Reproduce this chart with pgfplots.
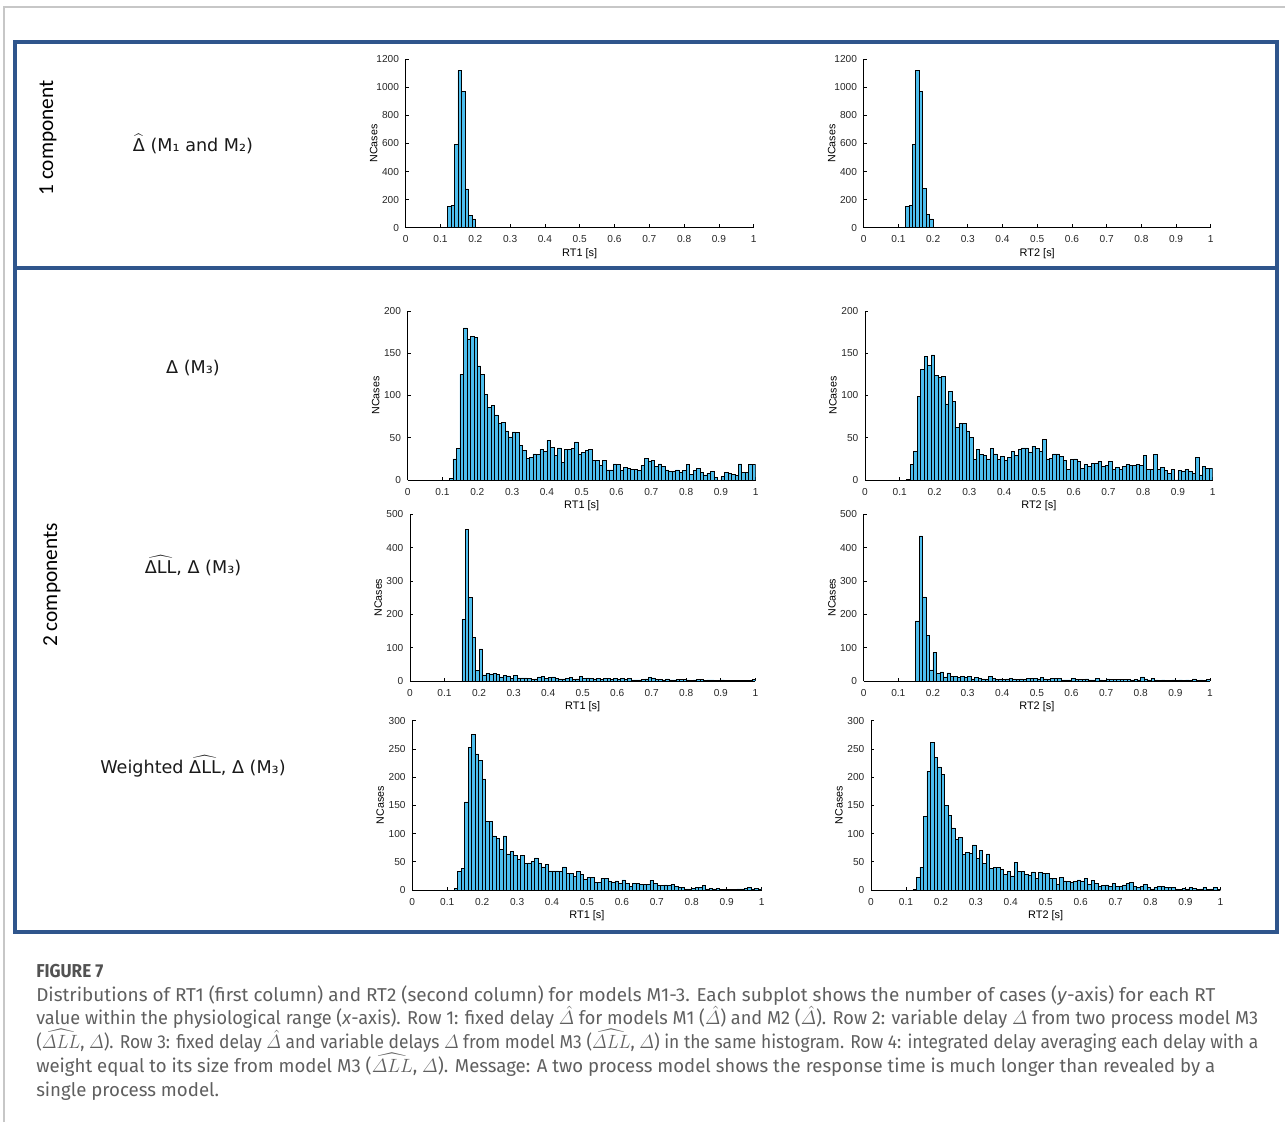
\documentclass[border=0pt]{standalone}
\usepackage{amsmath}
\usepackage{graphicx}
\usepackage{fontspec}
\usepackage{pgfplots}
\pgfplotsset{compat=1.18}
\newfontfamily\arial{Liberation Sans}
\newfontfamily\verd{DejaVu Sans}
\newfontfamily\cali{Carlito}
\newfontfamily\capfont{Fira Sans}
\definecolor{matblue}{RGB}{77,190,238}
\definecolor{boxblue}{RGB}{47,85,140}
\definecolor{capgray}{RGB}{95,95,95}

\pgfplotsset{
  hist/.style={
    scale only axis, anchor=south west,
    xmin=0, xmax=1, ymin=0,
    axis x line*=bottom, axis y line*=left,
    tick align=inside, major tick length=2.5pt,
    xtick={0,0.1,0.2,0.3,0.4,0.5,0.6,0.7,0.8,0.9,1},
    ticklabel style={font=\arial\fontsize{7.6}{9}\selectfont, text=black!85},
    xticklabel style={yshift=-2.5pt},
    yticklabel style={xshift=-1.5pt},
    /pgf/number format/assume math mode=true,
    /pgf/number format/1000 sep={},
    axis line style={line width=0.6pt},
    tick style={line width=0.5pt, black},
    every axis y label/.style={at={(axis description cs:-0.092,0.5)}, rotate=90, anchor=center,
      font=\arial\fontsize{8}{9}\selectfont},
    every axis x label/.style={at={(axis description cs:0.5,0)}, anchor=center, yshift=-19.5pt,
      font=\arial\fontsize{8.2}{9}\selectfont},
    ylabel={NCases},
  },
  bars/.style={ybar interval, fill=matblue, draw=black, line width=0.45pt},
}

\begin{document}
\begin{tikzpicture}[x=0.75pt,y=0.75pt]
\path[use as bounding box] (0,0) rectangle (1285,1122);

% frame and boxes
\draw[black!22, line width=1] (4,0) -- (4,1115) -- (1285,1115);
\draw[boxblue, line width=3] (15,1080) rectangle (1277,190);
\draw[boxblue, line width=3] (15,854) -- (1277,854);

% row labels
\node[rotate=90, font=\cali\fontsize{16}{18}\selectfont] at (48,984) {1 component};
\node[rotate=90, font=\cali\fontsize{16}{18}\selectfont] at (52,537) {2 components};
\begin{scope}[every node/.style={font=\verd\fontsize{13.2}{15}\selectfont, text=black!90}]
\node at (193,978) {$\widehat{\text{Δ}}$ (M₁ and M₂)};
\node at (193,754) {Δ (M₃)};
\node at (193,556) {$\widehat{\text{ΔLL}}$, Δ (M₃)};
\node at (193,356) {Weighted $\widehat{\text{ΔLL}}$, Δ (M₃)};
\end{scope}

% row 1
\begin{axis}[hist, at={({405.7*0.75pt},{894.3*0.75pt})}, width=261pt, height=126.3pt,
  ymax=1200, ytick={0,200,400,600,800,1000,1200}, xlabel={RT1 [s]}]
\addplot[bars] coordinates {(0.12,154)(0.13,161)(0.14,594)(0.15,1119)(0.16,972)(0.17,276)(0.18,90)(0.19,62)(0.20,0)};
\end{axis}
\begin{axis}[hist, at={({863.7*0.75pt},{894.3*0.75pt})}, width=260.3pt, height=126.3pt,
  ymax=1200, ytick={0,200,400,600,800,1000,1200}, xlabel={RT2 [s]}]
\addplot[bars] coordinates {(0.12,152)(0.13,158)(0.14,595)(0.15,1120)(0.16,970)(0.17,278)(0.18,92)(0.19,62)(0.20,0)};
\end{axis}

% row 2
\begin{axis}[hist, at={({407.7*0.75pt},{642*0.75pt})}, width=261pt, height=126.75pt,
  ymax=200, ytick={0,50,100,150,200}, xlabel={RT1 [s]}]
\addplot[bars] coordinates {
(0.12,2)(0.13,25)(0.14,37)(0.15,125)(0.16,180)(0.17,167)(0.18,170)(0.19,169)
(0.20,135)(0.21,125)(0.22,101)(0.23,86)(0.24,88)(0.25,77)(0.26,67)(0.27,68)(0.28,58)(0.29,51)
(0.30,57)(0.31,56)(0.32,41)(0.33,35)(0.34,26)(0.35,27)(0.36,31)(0.37,30)(0.38,36)(0.39,34)
(0.40,47)(0.41,39)(0.42,29)(0.43,38)(0.44,21)(0.45,36)(0.46,36)(0.47,37)(0.48,45)(0.49,30)
(0.50,33)(0.51,35)(0.52,36)(0.53,23)(0.54,23)(0.55,17)(0.56,23)(0.57,12)(0.58,12)(0.59,19)
(0.60,18)(0.61,11)(0.62,15)(0.63,14)(0.64,13)(0.65,13)(0.66,11)(0.67,17)(0.68,26)(0.69,22)
(0.70,23)(0.71,16)(0.72,19)(0.73,16)(0.74,12)(0.75,10)(0.76,10)(0.77,12)(0.78,9)(0.79,11)
(0.80,18)(0.81,7)(0.82,11)(0.83,14)(0.84,9)(0.85,6)(0.86,8)(0.87,10)(0.88,3)(0.89,0)
(0.90,4)(0.91,9)(0.92,8)(0.93,7)(0.94,5)(0.95,19)(0.96,9)(0.97,9)(0.98,18)(0.99,18)(1.00,0)};
\end{axis}
\begin{axis}[hist, at={({865*0.75pt},{642*0.75pt})}, width=260.8pt, height=126.75pt,
  ymax=200, ytick={0,50,100,150,200}, xlabel={RT2 [s]}]
\addplot[bars] coordinates {
(0.12,1)(0.13,18)(0.14,34)(0.15,99)(0.16,131)(0.17,146)(0.18,136)(0.19,148)
(0.20,124)(0.21,121)(0.22,123)(0.23,90)(0.24,105)(0.25,93)(0.26,62)(0.27,67)(0.28,67)(0.29,58)
(0.30,50)(0.31,24)(0.32,36)(0.33,30)(0.34,29)(0.35,25)(0.36,37)(0.37,31)(0.38,24)(0.39,28)
(0.40,23)(0.41,27)(0.42,34)(0.43,29)(0.44,36)(0.45,38)(0.46,38)(0.47,33)(0.48,40)(0.49,37)
(0.50,34)(0.51,48)(0.52,25)(0.53,26)(0.54,31)(0.55,31)(0.56,28)(0.57,23)(0.58,13)(0.59,24)
(0.60,25)(0.61,22)(0.62,14)(0.63,18)(0.64,16)(0.65,20)(0.66,20)(0.67,22)(0.68,16)(0.69,17)
(0.70,22)(0.71,13)(0.72,15)(0.73,13)(0.74,16)(0.75,18)(0.76,17)(0.77,17)(0.78,18)(0.79,17)
(0.80,29)(0.81,13)(0.82,13)(0.83,30)(0.84,13)(0.85,15)(0.86,11)(0.87,8)(0.88,13)(0.89,0)
(0.90,11)(0.91,10)(0.92,13)(0.93,10)(0.94,8)(0.95,27)(0.96,6)(0.97,16)(0.98,14)(0.99,14)(1.00,0)};
\end{axis}

% row 3
\begin{axis}[hist, at={({410*0.75pt},{441*0.75pt})}, width=259pt, height=125pt,
  ymax=500, ytick={0,100,200,300,400,500}, xlabel={RT1 [s]}]
\addplot[bars] coordinates {
(0.15,185)(0.16,455)(0.17,250)(0.18,130)(0.19,32)
(0.20,96)(0.21,18)(0.22,23)(0.23,21)(0.24,22)(0.25,20)(0.26,12)(0.27,17)(0.28,15)(0.29,8)
(0.30,16)(0.31,9)(0.32,9)(0.33,9)(0.34,8)(0.35,5)(0.36,6)(0.37,12)(0.38,14)(0.39,7)
(0.40,10)(0.41,12)(0.42,7)(0.43,6)(0.44,6)(0.45,8)(0.46,10)(0.47,5)(0.48,6)(0.49,14)
(0.50,7)(0.51,9)(0.52,7)(0.53,6)(0.54,7)(0.55,4)(0.56,8)(0.57,8)(0.58,4)(0.59,7)
(0.60,4)(0.61,7)(0.62,5)(0.63,7)(0.64,3)(0.65,3)(0.66,3)(0.67,5)(0.68,6)(0.69,11)
(0.70,9)(0.71,4)(0.72,4)(0.73,3)(0.74,6)(0.75,3)(0.76,3)(0.77,4)(0.78,4)(0.79,5)
(0.80,3)(0.81,2)(0.82,3)(0.83,4)(0.84,4)(0.85,2)(0.86,3)(0.87,3)(0.88,2)(0.89,1)
(0.90,3)(0.91,2)(0.92,2)(0.93,1)(0.94,1)(0.95,2)(0.96,1)(0.97,2)(0.98,2)(0.99,4)(1.00,0)};
\end{axis}
\begin{axis}[hist, at={({863.7*0.75pt},{441*0.75pt})}, width=259.7pt, height=125pt,
  ymax=500, ytick={0,100,200,300,400,500}, xlabel={RT2 [s]}]
\addplot[bars] coordinates {
(0.15,180)(0.16,435)(0.17,252)(0.18,137)(0.19,33)
(0.20,85)(0.21,22)(0.22,27)(0.23,12)(0.24,24)(0.25,14)(0.26,14)(0.27,10)(0.28,13)(0.29,10)
(0.30,14)(0.31,6)(0.32,10)(0.33,8)(0.34,6)(0.35,5)(0.36,14)(0.37,7)(0.38,5)(0.39,6)
(0.40,5)(0.41,6)(0.42,8)(0.43,6)(0.44,5)(0.45,6)(0.46,5)(0.47,7)(0.48,8)(0.49,8)
(0.50,6)(0.51,10)(0.52,6)(0.53,5)(0.54,8)(0.55,7)(0.56,7)(0.57,3)(0.58,3)(0.59,3)
(0.60,7)(0.61,4)(0.62,4)(0.63,4)(0.64,6)(0.65,3)(0.66,3)(0.67,8)(0.68,3)(0.69,2)
(0.70,6)(0.71,4)(0.72,5)(0.73,4)(0.74,5)(0.75,4)(0.76,4)(0.77,3)(0.78,4)(0.79,3)
(0.80,12)(0.81,6)(0.82,3)(0.83,7)(0.84,3)(0.85,2)(0.86,3)(0.87,1)(0.88,2)(0.89,3)
(0.90,1)(0.91,3)(0.92,2)(0.93,3)(0.94,2)(0.95,6)(0.96,2)(0.97,3)(0.98,2)(0.99,4)(1.00,0)};
\end{axis}

% row 4
\begin{axis}[hist, at={({412.3*0.75pt},{232*0.75pt})}, width=262pt, height=127pt,
  ymax=300, ytick={0,50,100,150,200,250,300}, xlabel={RT1 [s]}]
\addplot[bars] coordinates {
(0.12,3)(0.13,33)(0.14,38)(0.15,156)(0.16,253)(0.17,275)(0.18,241)(0.19,229)
(0.20,197)(0.21,122)(0.22,121)(0.23,96)(0.24,92)(0.25,72)(0.26,96)(0.27,64)(0.28,69)(0.29,61)
(0.30,54)(0.31,61)(0.32,47)(0.33,48)(0.34,50)(0.35,57)(0.36,47)(0.37,41)(0.38,46)(0.39,34)
(0.40,34)(0.41,34)(0.42,33)(0.43,41)(0.44,30)(0.45,30)(0.46,24)(0.47,33)(0.48,28)(0.49,19)
(0.50,22)(0.51,22)(0.52,14)(0.53,14)(0.54,21)(0.55,21)(0.56,15)(0.57,13)(0.58,16)(0.59,12)
(0.60,18)(0.61,12)(0.62,7)(0.63,12)(0.64,11)(0.65,10)(0.66,10)(0.67,10)(0.68,17)(0.69,12)
(0.70,8)(0.71,8)(0.72,9)(0.73,8)(0.74,10)(0.75,6)(0.76,5)(0.77,4)(0.78,2)(0.79,2)
(0.80,3)(0.81,4)(0.82,5)(0.83,8)(0.84,2)(0.85,3)(0.86,2)(0.87,3)(0.88,1)(0.89,1)
(0.90,1)(0.91,1)(0.92,1)(0.93,2)(0.94,2)(0.95,3)(0.96,4)(0.97,2)(0.98,3)(0.99,2)(1.00,0)};
\end{axis}
\begin{axis}[hist, at={({871*0.75pt},{232*0.75pt})}, width=262pt, height=127pt,
  ymax=300, ytick={0,50,100,150,200,250,300}, xlabel={RT2 [s]}]
\addplot[bars] coordinates {
(0.12,1)(0.13,22)(0.14,40)(0.15,131)(0.16,210)(0.17,262)(0.18,235)(0.19,218)
(0.20,205)(0.21,150)(0.22,132)(0.23,110)(0.24,90)(0.25,93)(0.26,63)(0.27,66)(0.28,65)(0.29,80)
(0.30,56)(0.31,70)(0.32,47)(0.33,64)(0.34,38)(0.35,40)(0.36,40)(0.37,37)(0.38,28)(0.39,33)
(0.40,25)(0.41,49)(0.42,33)(0.43,33)(0.44,27)(0.45,26)(0.46,32)(0.47,21)(0.48,31)(0.49,30)
(0.50,30)(0.51,21)(0.52,20)(0.53,10)(0.54,23)(0.55,16)(0.56,15)(0.57,13)(0.58,15)(0.59,18)
(0.60,15)(0.61,20)(0.62,10)(0.63,17)(0.64,12)(0.65,7)(0.66,8)(0.67,9)(0.68,6)(0.69,11)
(0.70,6)(0.71,7)(0.72,9)(0.73,11)(0.74,14)(0.75,7)(0.76,4)(0.77,7)(0.78,10)(0.79,5)
(0.80,2)(0.81,4)(0.82,7)(0.83,7)(0.84,5)(0.85,4)(0.86,4)(0.87,2)(0.88,1)(0.89,3)
(0.90,2)(0.91,4)(0.92,3)(0.93,1)(0.94,2)(0.95,4)(0.96,1)(0.97,2)(0.98,4)(0.99,1)(1.00,0)};
\end{axis}

% caption
\begin{scope}[every node/.style={anchor=base west, inner sep=0pt, text=capgray,
    font=\capfont\fontsize{14}{16}\selectfont}]
\node[text=black!68] at (36,145) {\resizebox{50.25pt}{\height}{\bfseries FIGURE 7}};
\node at (36,121) {\resizebox{884.25pt}{\height}{Distributions of RT1 (first column) and RT2 (second column) for models M1-3. Each subplot shows the number of cases (\textit{y}-axis) for each RT}};
\node at (36,98) {\resizebox{916.5pt}{\height}{value within the physiological range (\textit{x}-axis). Row 1: fixed delay $\hat{\varDelta}$ for models M1 ($\hat{\varDelta}$) and M2 ($\hat{\varDelta}$). Row 2: variable delay $\varDelta$ from two process model M3}};
\node at (36,74) {\resizebox{916.5pt}{\height}{($\widehat{\varDelta LL}$, $\varDelta$). Row 3: fixed delay $\hat{\varDelta}$ and variable delays $\varDelta$ from model M3 ($\widehat{\varDelta LL}$, $\varDelta$) in the same histogram. Row 4: integrated delay averaging each delay with a}};
\node at (36,50) {\resizebox{884.25pt}{\height}{weight equal to its size from model M3 ($\widehat{\varDelta LL}$, $\varDelta$). Message: A two process model shows the response time is much longer than revealed by a}};
\node at (36,26) {single process model.};
\end{scope}
\end{tikzpicture}
\end{document}
